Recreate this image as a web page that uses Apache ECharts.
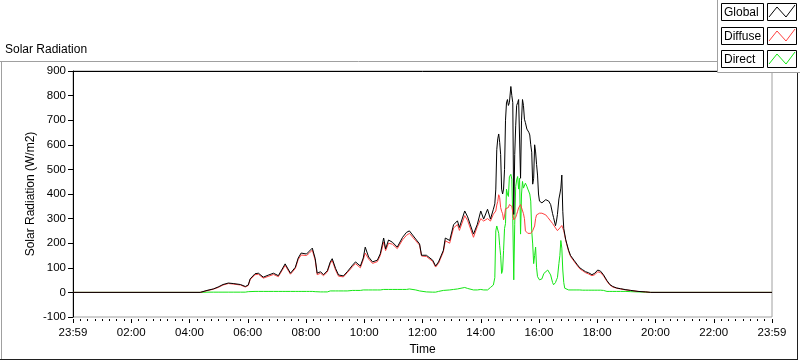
<!DOCTYPE html>
<html>
<head>
<meta charset="utf-8">
<script src="https://cdn.jsdelivr.net/npm/echarts@6/dist/echarts.min.js"></script>
<style>
html,body{margin:0;padding:0;background:#fff;}
#chart{width:800px;height:361px;}
</style>
</head>
<body>
<div id="chart"></div>
<script>
// ---- Data ----
const times = [
"00:00","04:22","04:26","04:36","04:49","04:59","05:09","05:20","05:30","05:45","05:55",
"06:01","06:05","06:15","06:22","06:32","06:42","06:53","07:03","07:11","07:17","07:28",
"07:38","07:44","07:50","08:01","08:07","08:13","08:19","08:23","08:30","08:36","08:44",
"08:50","08:54","09:01","09:07","09:17","09:25","09:36","09:42","09:52","09:58","10:02",
"10:09","10:17","10:27","10:33","10:40","10:44","10:50","10:58","11:08","11:19","11:27",
"11:33","11:37","11:46","11:54","11:58","12:08","12:21","12:27","12:33","12:43","12:47",
"12:56","13:04","13:12","13:16","13:27","13:33","13:37","13:45","13:53","14:00","14:06",
"14:14","14:20","14:26","14:29","14:31","14:33","14:35","14:37","14:39","14:41","14:43",
"14:45","14:47","14:49","14:51","14:53","14:55","14:57","14:59","15:02","15:04","15:06",
"15:08","15:10","15:12","15:14","15:16","15:18","15:20","15:22","15:24","15:26","15:28",
"15:30","15:32","15:35","15:37","15:39","15:41","15:43","15:45","15:47","15:49","15:51",
"15:53","15:55","15:57","15:59","16:01","16:03","16:06","16:10","16:14","16:18","16:20",
"16:24","16:28","16:30","16:34","16:36","16:38","16:41","16:43","16:45","16:47","16:49",
"16:51","16:53","16:55","16:57","17:01","17:05","17:12","17:18","17:24","17:30","17:36",
"17:42","17:49","17:55","18:01","18:07","18:13","18:20","18:26","18:32","18:40","18:48",
"18:59","19:09","19:24","19:40","19:50","24:00"
];
const globalRad = [
0,0,2,8,14,22,32,38,36,32,24,
30,55,76,78,62,70,78,68,95,116,78,
102,140,160,156,168,180,137,78,84,72,88,
124,137,97,71,67,84,111,124,107,140,184,
144,124,131,157,221,177,213,204,184,224,244,
250,248,217,197,151,151,131,107,124,171,221,
211,275,291,264,331,307,301,237,277,331,298,
338,298,338,360,420,580,624,644,610,560,420,
400,420,500,700,770,784,760,771,837,800,771,
317,560,677,760,771,784,791,464,700,784,760,
704,690,664,660,651,640,600,570,440,464,600,
571,520,477,400,371,368,364,370,377,375,371,
357,320,304,271,290,317,380,400,424,477,330,
260,237,215,200,171,150,131,115,100,92,84,
80,72,78,91,86,71,48,32,24,18,15,
11,8,4,2,0,0
];
const diffuseRad = [
0,0,2,7,13,20,30,36,34,30,22,
28,52,72,74,58,65,73,64,90,110,74,
97,134,152,150,160,172,130,72,78,68,83,
118,130,90,66,63,80,105,117,100,133,160,
136,118,125,150,205,170,200,196,178,214,232,
240,240,210,192,148,146,126,103,118,165,210,
200,262,276,252,312,292,288,224,268,300,290,
300,290,318,325,331,355,370,397,385,345,330,
320,295,310,340,344,340,345,357,365,350,325,
295,300,305,317,330,344,350,357,357,350,320,
300,250,244,240,237,237,240,245,251,255,270,
300,315,317,320,322,324,322,317,315,305,300,
290,280,277,262,255,251,258,262,264,272,277,
251,232,212,196,167,146,127,111,96,88,80,
75,68,72,84,80,67,45,30,22,17,14,
10,8,4,2,0,0
];
const directRad = [
0,0,0,1,1,1,1,1,1,1,1,
3,4,4,4,4,4,4,4,4,4,4,
4,4,4,4,4,4,3,0,2,2,2,
6,6,6,6,6,6,8,8,8,10,10,
10,10,10,10,12,12,12,12,12,12,12,
14,12,10,6,2,2,1,1,4,8,10,
10,12,14,12,20,16,12,10,10,12,10,
10,20,30,60,250,270,265,240,190,150,77,
90,170,260,280,420,400,390,470,480,460,300,
51,277,430,457,471,420,464,237,400,451,424,
430,444,431,420,424,400,371,250,197,117,150,
184,100,64,57,51,51,55,77,85,91,85,
71,40,31,40,51,60,117,150,211,180,91,
40,17,12,10,10,10,10,10,10,9,9,
9,9,9,9,9,8,4,4,4,4,4,
4,3,2,1,0,0
];
const seriesNames = ["Global","Diffuse","Direct"];
const seriesColors = ["#000000","#ff4040","#14e614"];
const xTickLabels = ["23:59","02:00","04:00","06:00","08:00","10:00","12:00","14:00","16:00","18:00","20:00","22:00","23:59"];

// ---- Build ----
function toMin(s){const p=s.split(":");return (+p[0])*60+(+p[1]);}
const mins = times.map(toMin);
const pairs = arr => arr.map((v,i)=>[mins[i],v]);
const valueSets = [globalRad, diffuseRad, directRad];

const FONT = "Liberation Sans";
const chart = echarts.init(document.getElementById('chart'), null, {renderer:'canvas'});

// legend built as graphic (LabVIEW style boxed legend)
const legendGraphics = [{
  type:'rect', z:100, shape:{x:717.5,y:-2,width:90,height:74.5},
  style:{fill:'#fff',stroke:'#a0a0a0',lineWidth:1}
}];
const rowsY=[3,27,50];
seriesNames.forEach((n,i)=>{
  const y0=rowsY[i];
  legendGraphics.push({type:'rect',z:101,shape:{x:721.5,y:y0+0.5,width:42,height:17},style:{fill:'#fff',stroke:'#000',lineWidth:1}});
  legendGraphics.push({type:'text',z:102,x:724,y:y0+9.5,style:{text:n,fill:'#000',font:'12px "'+FONT+'"',textVerticalAlign:'middle',verticalAlign:'middle'}});
  legendGraphics.push({type:'rect',z:101,shape:{x:767.5,y:y0+0.5,width:29,height:17},style:{fill:'#fff',stroke:'#000',lineWidth:1}});
  legendGraphics.push({type:'polyline',z:102,shape:{points:[[769,y0+14],[777,y0+4],[786,y0+14],[795,y0+2]]},style:{stroke:seriesColors[i],lineWidth:1,fill:null}});
});

const frameGraphics = [
  {type:'line',z:1,shape:{x1:0,y1:61.5,x2:717,y2:61.5},style:{stroke:'#a0a0a0',lineWidth:1}},
  {type:'line',z:1,shape:{x1:1.5,y1:61.5,x2:1.5,y2:359},style:{stroke:'#a0a0a0',lineWidth:1}},
  {type:'line',z:1,shape:{x1:0,y1:359.5,x2:798,y2:359.5},style:{stroke:'#202020',lineWidth:1}},
  {type:'line',z:1,shape:{x1:797.5,y1:72,x2:797.5,y2:360},style:{stroke:'#202020',lineWidth:1}}
];

const option = {
  animation:false,
  backgroundColor:'#ffffff',
  textStyle:{fontFamily:FONT},
  title:{text:'Solar Radiation',left:5,top:44,padding:0,textStyle:{fontSize:12,fontWeight:'normal',color:'#000',fontFamily:FONT}},
  grid:{left:73,right:28,top:71,bottom:39,show:true,borderColor:'#a0a0a0',borderWidth:1,backgroundColor:'#fff'},
  xAxis:[{
    type:'value',min:0,max:1440,interval:120,position:'bottom',offset:2,
    axisLine:{show:false,onZero:false},
    axisTick:{show:true,length:4,lineStyle:{color:'#000',width:1}},
    minorTick:{show:true,splitNumber:8,length:2,lineStyle:{color:'#000',width:1}},
    axisLabel:{fontSize:11.5,color:'#000',margin:8,fontFamily:FONT,
      formatter:v=>xTickLabels[Math.round(v/120)]},
    splitLine:{show:false},
    name:'Time',nameLocation:'middle',nameGap:25,nameMoveOverlap:false,
    nameTextStyle:{fontSize:12,color:'#000',fontFamily:FONT}
  },{
    type:'value',min:0,max:1440,position:'top',
    axisLine:{show:true,onZero:false,lineStyle:{color:'#000',width:1}},
    axisTick:{show:false},axisLabel:{show:false},splitLine:{show:false}
  }],
  yAxis:{
    type:'value',min:-100,max:900,interval:100,
    axisLine:{show:true,onZero:false,lineStyle:{color:'#000',width:1}},
    axisTick:{show:true,length:5,lineStyle:{color:'#000'}},
    axisLabel:{fontSize:11.5,color:'#000',margin:7,fontFamily:FONT},
    splitLine:{show:false},
    name:'Solar Radiation (W/m2)',nameLocation:'middle',nameGap:36,nameMoveOverlap:false,
    nameTextStyle:{fontSize:12,color:'#000',fontFamily:FONT}
  },
  series:[2,1,0].map(i=>({
    name:seriesNames[i],type:'line',xAxisIndex:0,
    data:pairs(valueSets[i]),
    showSymbol:false,symbol:'none',
    lineStyle:{color:seriesColors[i],width:1},
    itemStyle:{color:seriesColors[i]},
    z:2+(2-i)
  })),
  graphic:frameGraphics.concat(legendGraphics)
};
chart.setOption(option);
</script>
</body>
</html>
